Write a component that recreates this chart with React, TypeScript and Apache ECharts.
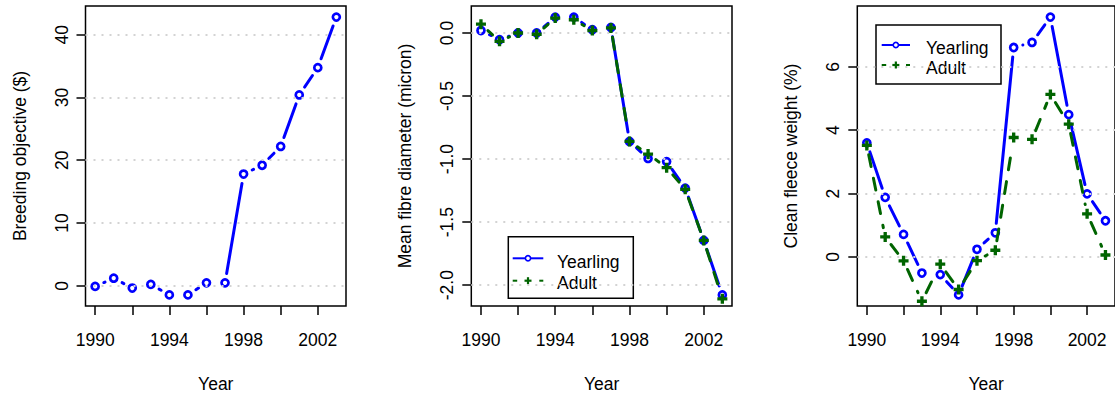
import React, { useEffect, useRef } from "react";
import * as echarts from "echarts";

const years = [1990, 1991, 1992, 1993, 1994, 1995, 1996, 1997, 1998, 1999, 2000, 2001, 2002, 2003];
const tickYears = [1990, 1992, 1994, 1996, 1998, 2000, 2002];
const labelYears = [1990, 1994, 1998, 2002];

const breedingObjective = [-0.1, 1.21, -0.36, 0.22, -1.45, -1.45, 0.47, 0.47, 17.8, 19.2, 22.2, 30.4, 34.75, 42.8];
const mfdYearling = [0.02, -0.053, 0.0, 0.0, 0.126, 0.126, 0.026, 0.044, -0.86, -0.995, -1.02, -1.23, -1.645, -2.077];
const mfdAdult = [0.07, -0.066, 0.0, -0.01, 0.118, 0.105, 0.02, 0.04, -0.86, -0.96, -1.068, -1.24, -1.645, -2.108];
const cfwYearling = [3.6, 1.88, 0.71, -0.51, -0.56, -1.2, 0.24, 0.76, 6.61, 6.77, 7.57, 4.49, 1.99, 1.14];
const cfwAdult = [3.52, 0.63, -0.125, -1.4, -0.23, -1.03, -0.12, 0.21, 3.77, 3.71, 5.13, 4.19, 1.36, 0.06];

const boTicks = [0, 10, 20, 30, 40];
const mfdTicks = [-2, -1.5, -1, -0.5, 0];
const cfwTicks = [0, 2, 4, 6];

const yTitles = ["Breeding objective ($)", "Mean fibre diameter (micron)", "Clean fleece weight (%)"];
const xTitle = "Year";
const legendNames = ["Yearling", "Adult"];

const FONT = "'Liberation Sans', Arial, Helvetica, sans-serif";
const FS = 17.5;
const BLUE = "#0000ff";
const GREEN = "#006400";
const GAP = 9.5;
const PLUS = "path://M3,0H6V3H9V6H6V9H3V6H0V3H3Z";

function padRange(v: number[]): [number, number] {
  const lo = Math.min(...v);
  const hi = Math.max(...v);
  const p = (hi - lo) * 0.04;
  return [lo - p, hi + p];
}

function segments(xs: number[], ys: number[]) {
  const out: number[][] = [];
  for (let i = 0; i < xs.length - 1; i++) out.push([xs[i], ys[i], xs[i + 1], ys[i + 1]]);
  return out;
}

function segRender(color: string, dash: number[] | null) {
  return (params: any, api: any) => {
    const p1 = api.coord([api.value(0), api.value(1)]);
    const p2 = api.coord([api.value(2), api.value(3)]);
    const dx = p2[0] - p1[0];
    const dy = p2[1] - p1[1];
    const len = Math.hypot(dx, dy);
    if (len <= 2 * GAP) return { type: "group", children: [] };
    const ux = dx / len;
    const uy = dy / len;
    return {
      type: "line",
      shape: { x1: p1[0] + ux * GAP, y1: p1[1] + uy * GAP, x2: p2[0] - ux * GAP, y2: p2[1] - uy * GAP },
      style: { stroke: color, lineWidth: 3, lineDash: dash || undefined, lineCap: "round", fill: null },
    };
  };
}

const grids = [
  { left: 85.5, top: 6, width: 260.5, height: 304 },
  { left: 471.3, top: 6, width: 260.7, height: 304 },
  { left: 857.3, top: 6, width: 260.2, height: 304 },
];

function xAxisFor(i: number) {
  const [mn, mx] = padRange(years);
  return {
    type: "value",
    gridIndex: i,
    min: mn,
    max: mx,
    axisLine: { show: false, onZero: false },
    axisTick: { show: true, customValues: tickYears, length: 9, lineStyle: { color: "#000", width: 1.5 } },
    axisLabel: {
      customValues: labelYears,
      margin: 24.5,
      color: "#000",
      fontSize: FS,
      fontFamily: FONT,
      formatter: (v: number) => String(Math.round(v)),
    },
    splitLine: { show: false },
    name: xTitle,
    nameLocation: "middle",
    nameGap: 69,
    nameTextStyle: { color: "#000", fontSize: FS, fontFamily: FONT },
  };
}

function yAxisFor(i: number, range: [number, number], ticks: number[], fmt: (v: number) => string) {
  return {
    type: "value",
    gridIndex: i,
    min: range[0],
    max: range[1],
    axisLine: { show: false, onZero: false },
    axisTick: { show: true, customValues: ticks, length: 9, lineStyle: { color: "#000", width: 1.5 } },
    axisLabel: {
      customValues: ticks,
      rotate: 90,
      margin: 15,
      align: "center",
      verticalAlign: "bottom",
      color: "#000",
      fontSize: FS,
      fontFamily: FONT,
      formatter: (v: number) => fmt(v),
    },
    splitLine: { show: false },
    name: yTitles[i],
    nameLocation: "middle",
    nameGap: 57,
    nameRotate: 90,
    nameTextStyle: { color: "#000", fontSize: FS, fontFamily: FONT },
  };
}

function gridMark(ticks: number[]) {
  return {
    silent: true,
    symbol: ["none", "none"],
    label: { show: false },
    lineStyle: { type: [2, 6], color: "#d3d3d3", width: 2 },
    data: ticks.map((v) => ({ yAxis: v })),
  };
}

function lineSeries(i: number, vals: number[], color: string, dash: number[] | null) {
  return {
    type: "custom",
    xAxisIndex: i,
    yAxisIndex: i,
    renderItem: segRender(color, dash),
    data: segments(years, vals),
    encode: { x: [0, 2], y: [1, 3] },
    z: 3,
  };
}

function circleSeries(i: number, vals: number[], ticks: number[] | null) {
  const s: any = {
    type: "scatter",
    xAxisIndex: i,
    yAxisIndex: i,
    symbol: "circle",
    symbolSize: 7,
    itemStyle: { color: "rgba(0,0,0,0)", borderColor: BLUE, borderWidth: 2.7, opacity: 1 },
    data: years.map((y, k) => [y, vals[k]]),
    z: 4,
  };
  if (ticks) s.markLine = gridMark(ticks);
  return s;
}

function plusSeries(i: number, vals: number[]) {
  return {
    type: "scatter",
    xAxisIndex: i,
    yAxisIndex: i,
    symbol: PLUS,
    symbolSize: 10,
    itemStyle: { color: GREEN, opacity: 1 },
    data: years.map((y, k) => [y, vals[k]]),
    z: 6,
  };
}

function legendGraphic(bx: number, by: number, bw: number, bh: number, r1: number, r2: number, t1: number, t2: number, lx1: number, lx2: number, tx: number) {
  const cx = (lx1 + lx2) / 2;
  return {
    type: "group",
    z: 100,
    children: [
      { type: "rect", shape: { x: bx, y: by, width: bw, height: bh }, style: { fill: "#fff", stroke: "#000", lineWidth: 1.5 } },
      { type: "line", shape: { x1: lx1, y1: r1, x2: lx2, y2: r1 }, style: { stroke: BLUE, lineWidth: 2 } },
      { type: "circle", shape: { cx, cy: r1, r: 2.6 }, style: { fill: "#fff", stroke: BLUE, lineWidth: 1.6 } },
      { type: "line", shape: { x1: lx1, y1: r2, x2: lx1 + 4.5, y2: r2 }, style: { stroke: GREEN, lineWidth: 2 } },
      { type: "line", shape: { x1: lx2 - 4, y1: r2, x2: lx2, y2: r2 }, style: { stroke: GREEN, lineWidth: 2 } },
      { type: "line", shape: { x1: cx - 3.5, y1: r2, x2: cx + 3.5, y2: r2 }, style: { stroke: GREEN, lineWidth: 2.2 } },
      { type: "line", shape: { x1: cx, y1: r2 - 3.5, x2: cx, y2: r2 + 3.5 }, style: { stroke: GREEN, lineWidth: 2.2 } },
      { type: "text", style: { x: tx, y: t1, text: legendNames[0], fill: "#000", font: `${FS}px ${FONT}`, textVerticalAlign: "middle", verticalAlign: "middle", align: "left" } },
      { type: "text", style: { x: tx, y: t2, text: legendNames[1], fill: "#000", font: `${FS}px ${FONT}`, textVerticalAlign: "middle", verticalAlign: "middle", align: "left" } },
    ],
  };
}

export default function App() {
  const ref = useRef<HTMLDivElement>(null);
  useEffect(() => {
    if (!ref.current) return;
    const chart = echarts.init(ref.current, undefined, { renderer: "svg" });
    const r1 = padRange(breedingObjective);
    const r2 = padRange(mfdYearling);
    const r3 = padRange(cfwYearling);
    chart.setOption({
      animation: false,
      backgroundColor: "#fff",
      textStyle: { fontFamily: FONT },
      grid: grids.map((g) => ({ ...g, show: true, borderColor: "#000", borderWidth: 1.5, backgroundColor: "transparent", containLabel: false })),
      xAxis: [xAxisFor(0), xAxisFor(1), xAxisFor(2)],
      yAxis: [
        yAxisFor(0, r1, boTicks, (v) => String(v)),
        yAxisFor(1, r2, mfdTicks, (v) => v.toFixed(1)),
        yAxisFor(2, r3, cfwTicks, (v) => String(v)),
      ],
      series: [
        lineSeries(0, breedingObjective, BLUE, null),
        circleSeries(0, breedingObjective, boTicks),
        lineSeries(1, mfdYearling, BLUE, null),
        circleSeries(1, mfdYearling, mfdTicks),
        { ...lineSeries(1, mfdAdult, GREEN, [12, 12]), z: 5 },
        plusSeries(1, mfdAdult),
        lineSeries(2, cfwYearling, BLUE, null),
        circleSeries(2, cfwYearling, cfwTicks),
        { ...lineSeries(2, cfwAdult, GREEN, [12, 12]), z: 5 },
        plusSeries(2, cfwAdult),
      ],
      graphic: [
        legendGraphic(508.3, 236.7, 125, 61.6, 258.3, 280.7, 261.5, 282.7, 512.7, 543.3, 557),
        legendGraphic(876, 25, 125, 59, 45, 65, 47.5, 68.3, 881.7, 910, 926),
      ],
    });
    return () => chart.dispose();
  }, []);
  return (
    <div style={{ position: "fixed", left: 0, top: 0, width: 1115, height: 398, overflow: "hidden", background: "#fff" }}>
      <div ref={ref} style={{ width: 1115, height: 398 }} />
    </div>
  );
}
